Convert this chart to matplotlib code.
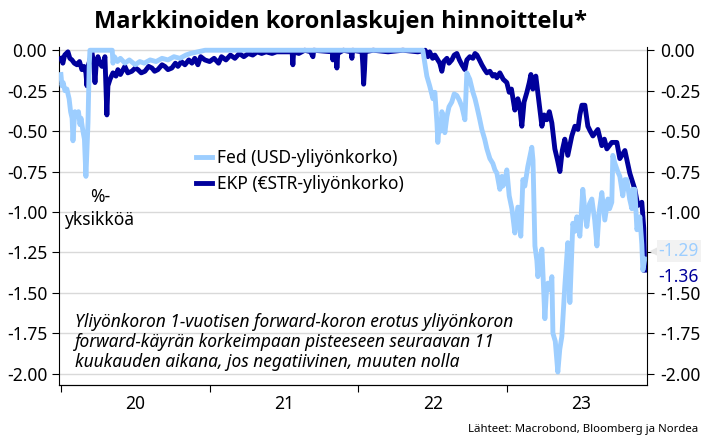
import matplotlib
matplotlib.use("Agg")
import matplotlib.pyplot as plt
import numpy as np

plt.rcParams['font.family'] = ['Noto Sans', 'DejaVu Sans']
plt.rcParams['axes.unicode_minus'] = False

# decimal years and values
fed_t = [2020.000, 2020.007, 2020.015, 2020.027, 2020.040, 2020.055, 2020.065, 2020.075,
         2020.081, 2020.088, 2020.094, 2020.108, 2020.118, 2020.128, 2020.135, 2020.148,
         2020.158, 2020.168, 2020.175, 2020.182, 2020.190, 2020.195, 2020.345, 2020.350,
         2020.360, 2020.380, 2020.400, 2020.430, 2020.460, 2020.500, 2020.530, 2020.560,
         2020.600, 2020.640, 2020.680, 2020.720, 2020.760, 2020.800, 2020.840, 2020.870,
         2020.920, 2020.970, 2022.434, 2022.461, 2022.480, 2022.502, 2022.515, 2022.529,
         2022.535, 2022.545, 2022.555, 2022.562, 2022.575, 2022.582, 2022.596, 2022.610,
         2022.629, 2022.645, 2022.663, 2022.680, 2022.697, 2022.717, 2022.730, 2022.750,
         2022.771, 2022.785, 2022.798, 2022.815, 2022.831, 2022.850, 2022.865, 2022.885,
         2022.905, 2022.919, 2022.932, 2022.952, 2022.966, 2022.972, 2022.985, 2022.999,
         2023.015, 2023.033, 2023.040, 2023.053, 2023.073, 2023.093, 2023.107, 2023.120,
         2023.140, 2023.167, 2023.175, 2023.188, 2023.201, 2023.208, 2023.220, 2023.235,
         2023.245, 2023.255, 2023.265, 2023.275, 2023.290, 2023.302, 2023.309, 2023.325,
         2023.342, 2023.355, 2023.369, 2023.389, 2023.409, 2023.423, 2023.443, 2023.456,
         2023.470, 2023.490, 2023.510, 2023.525, 2023.537, 2023.555, 2023.571, 2023.590,
         2023.605, 2023.620, 2023.638, 2023.658, 2023.679, 2023.690, 2023.705, 2023.712,
         2023.726, 2023.745, 2023.759, 2023.779, 2023.793, 2023.806, 2023.825, 2023.840,
         2023.847, 2023.860, 2023.874, 2023.894, 2023.907, 2023.914, 2023.927]
fed_v = [-0.15, -0.22, -0.20, -0.25, -0.24, -0.30, -0.38, -0.42,
         -0.56, -0.45, -0.38, -0.40, -0.38, -0.46, -0.42, -0.50,
         -0.55, -0.78, -0.62, -0.45, -0.10, 0.00, 0.00, -0.08,
         -0.04, -0.07, -0.05, -0.08, -0.06, -0.09, -0.07, -0.08,
         -0.06, -0.07, -0.05, -0.06, -0.04, -0.05, -0.03, -0.02,
         -0.01, 0.00, 0.00, -0.16, -0.22, -0.30, -0.26, -0.45,
         -0.57, -0.45, -0.50, -0.38, -0.42, -0.51, -0.41, -0.35,
         -0.32, -0.27, -0.28, -0.31, -0.35, -0.43, -0.14, -0.18,
         -0.26, -0.30, -0.35, -0.42, -0.49, -0.55, -0.61, -0.67,
         -0.70, -0.74, -0.76, -0.86, -0.78, -0.84, -0.82, -0.74,
         -0.90, -0.98, -1.03, -1.13, -0.97, -1.15, -0.80, -0.84,
         -0.72, -0.60, -0.68, -1.21, -1.30, -1.40, -1.30, -1.23,
         -1.45, -1.66, -1.50, -1.44, -1.48, -1.40, -1.75, -1.80,
         -1.99, -1.85, -1.77, -1.46, -1.19, -1.56, -1.07, -1.12,
         -1.03, -1.15, -0.86, -1.00, -1.09, -0.95, -0.92, -1.05,
         -1.21, -1.00, -0.88, -1.05, -0.92, -0.98, -0.94, -0.65,
         -0.70, -0.75, -0.78, -0.90, -0.80, -0.80, -0.92, -0.98,
         -0.86, -0.86, -1.11, -1.03, -1.20, -1.36, -1.29]

ekp_t = [2020.000, 2020.013, 2020.025, 2020.047, 2020.060, 2020.074, 2020.090, 2020.108,
         2020.125, 2020.141, 2020.155, 2020.168, 2020.175, 2020.182, 2020.195, 2020.208,
         2020.220, 2020.229, 2020.236, 2020.249, 2020.260, 2020.276, 2020.290, 2020.296,
         2020.309, 2020.316, 2020.330, 2020.350, 2020.370, 2020.383, 2020.400, 2020.430,
         2020.450, 2020.477, 2020.500, 2020.518, 2020.540, 2020.565, 2020.590, 2020.612,
         2020.630, 2020.652, 2020.680, 2020.699, 2020.720, 2020.746, 2020.770, 2020.787,
         2020.810, 2020.834, 2020.860, 2020.881, 2020.900, 2020.921, 2020.940, 2020.968,
         2021.000, 2021.030, 2021.060, 2021.080, 2021.110, 2021.140, 2021.170, 2021.200,
         2021.230, 2021.260, 2021.290, 2021.320, 2021.350, 2021.380, 2021.420, 2021.450,
         2021.480, 2021.555, 2021.560, 2021.565, 2021.600, 2021.640, 2021.680, 2021.695,
         2021.700, 2021.825, 2021.829, 2021.835, 2021.852, 2021.856, 2021.862, 2021.900,
         2021.952, 2021.957, 2021.962, 2022.025, 2022.031, 2022.036, 2022.042, 2022.047,
         2022.100, 2022.200, 2022.300, 2022.400, 2022.450, 2022.468, 2022.480, 2022.500,
         2022.515, 2022.535, 2022.548, 2022.562, 2022.575, 2022.596, 2022.610, 2022.629,
         2022.645, 2022.663, 2022.680, 2022.697, 2022.717, 2022.730, 2022.750, 2022.771,
         2022.785, 2022.798, 2022.815, 2022.831, 2022.850, 2022.865, 2022.885, 2022.905,
         2022.919, 2022.932, 2022.952, 2022.975, 2022.999, 2023.015, 2023.030, 2023.053,
         2023.073, 2023.085, 2023.100, 2023.115, 2023.134, 2023.150, 2023.161, 2023.174,
         2023.194, 2023.210, 2023.235, 2023.250, 2023.268, 2023.285, 2023.302, 2023.322,
         2023.340, 2023.356, 2023.372, 2023.389, 2023.409, 2023.436, 2023.457, 2023.477,
         2023.490, 2023.504, 2023.524, 2023.544, 2023.560, 2023.578, 2023.611, 2023.638,
         2023.655, 2023.672, 2023.705, 2023.739, 2023.759, 2023.793, 2023.826, 2023.860,
         2023.880, 2023.907, 2023.920, 2023.927]
ekp_v = [-0.05, -0.08, -0.03, -0.01, -0.05, -0.06, -0.08, -0.09,
         -0.07, -0.12, -0.10, -0.14, -0.22, -0.10, -0.06, -0.01,
         -0.08, -0.20, -0.10, -0.04, -0.08, -0.10, -0.06, -0.04,
         -0.40, -0.22, -0.18, -0.14, -0.16, -0.12, -0.15, -0.10,
         -0.14, -0.13, -0.11, -0.12, -0.14, -0.13, -0.10, -0.11,
         -0.13, -0.12, -0.09, -0.10, -0.12, -0.11, -0.08, -0.10,
         -0.07, -0.09, -0.06, -0.08, -0.05, -0.09, -0.04, -0.06,
         -0.07, -0.05, -0.08, -0.04, -0.06, -0.03, -0.05, -0.02,
         -0.04, -0.02, -0.03, -0.01, -0.02, -0.01, -0.02, -0.01,
         -0.01, -0.01, -0.09, -0.01, -0.02, 0.00, -0.01, -0.04,
         0.00, -0.01, -0.06, -0.01, -0.02, -0.11, -0.02, 0.00,
         -0.01, -0.05, 0.00, -0.01, -0.10, -0.21, -0.12, -0.01,
         0.00, -0.01, 0.00, -0.01, 0.00, -0.04, -0.01, -0.05,
         -0.03, -0.06, -0.08, -0.13, -0.07, -0.05, -0.08, -0.06,
         -0.03, -0.02, -0.06, -0.09, -0.12, -0.06, -0.04, -0.05,
         -0.02, -0.03, -0.06, -0.09, -0.12, -0.14, -0.13, -0.16,
         -0.15, -0.17, -0.14, -0.18, -0.20, -0.26, -0.24, -0.37,
         -0.30, -0.34, -0.47, -0.32, -0.26, -0.20, -0.15, -0.24,
         -0.16, -0.28, -0.47, -0.40, -0.43, -0.38, -0.45, -0.61,
         -0.68, -0.75, -0.62, -0.55, -0.65, -0.53, -0.47, -0.49,
         -0.40, -0.34, -0.34, -0.47, -0.50, -0.53, -0.49, -0.59,
         -0.55, -0.61, -0.57, -0.57, -0.67, -0.62, -0.76, -0.86,
         -0.96, -0.94, -1.10, -1.36]

fed_last = -1.29
ekp_last = -1.36
year_labels = ['20', '21', '22', '23']
yticks = [0.0, -0.25, -0.5, -0.75, -1.0, -1.25, -1.5, -1.75, -2.0]

fed_col = '#9DCEFF'
ekp_col = '#00009C'
fs = 12.5

fig = plt.figure(figsize=(7.1, 4.48), dpi=100)
ax = fig.add_axes([0.0831, 0.1406, 0.828, 0.7545])

ax.plot(ekp_t, ekp_v, color=ekp_col, lw=3.5, label='EKP (€STR-yliyönkorko)', zorder=3)
ax.plot(fed_t, fed_v, color=fed_col, lw=3.5, label='Fed (USD-yliyönkorko)', zorder=4)

ax.set_xlim(2019.987, 2023.941)
ax.set_ylim(-2.07, 0.02)
ax.set_yticks(yticks)
ax.set_yticklabels([f'{v:.2f}' for v in yticks])
ax.grid(axis='y', color='#D9D9D9', lw=1)
ax.set_axisbelow(True)

ax.set_xticks([2020, 2021, 2022, 2023])
ax.set_xticklabels([])
ax.set_xticks([2020.5, 2021.5, 2022.5, 2023.5], minor=True)
ax.set_xticklabels(year_labels, minor=True)
ax.tick_params(axis='x', which='major', length=5, direction='out')
ax.tick_params(axis='x', which='minor', length=0, pad=7, labelsize=fs)
ax.tick_params(axis='y', length=5, pad=3.5, labelsize=fs)
ax.spines['top'].set_visible(False)
ax.spines['right'].set_visible(False)

# right axis, the -1.25 label is hidden behind the end value box in the original
ax2 = ax.twinx()
ax2.set_ylim(ax.get_ylim())
ax2.set_yticks(yticks)
ax2.set_yticklabels(['' if v == -1.25 else f'{v:.2f}' for v in yticks])
ax2.tick_params(axis='y', length=5, pad=4.5, labelsize=fs)
ax2.spines['top'].set_visible(False)
ax2.spines['left'].set_visible(False)

# end value labels
fed_y = (-1.239 + 2.07) / 2.09
ekp_y = (-1.40 + 2.07) / 2.09
ax2.plot([1.012], [fed_y], marker='<', ms=6, color='#E6E6E6', transform=ax2.transAxes,
         clip_on=False, zorder=9)
ax2.text(1.02, fed_y, f'{fed_last:.2f}', transform=ax2.transAxes,
         color=fed_col, fontsize=fs, va='center', ha='left', zorder=10,
         bbox=dict(facecolor='#F2F2F2', edgecolor='none', pad=1.5))
ax2.text(1.02, ekp_y, f'{ekp_last:.2f}', transform=ax2.transAxes,
         color=ekp_col, fontsize=fs, va='center', ha='left', zorder=10,
         bbox=dict(facecolor='white', edgecolor='none', pad=0.5))

handles, labels = ax.get_legend_handles_labels()
ax.legend(handles[::-1], labels[::-1], loc='upper left', bbox_to_anchor=(0.233, 0.697),
          frameon=False, fontsize=fs, handlelength=0.9, handletextpad=0.3,
          labelspacing=0.45, borderpad=0, borderaxespad=0)

ax.text(0.0697, 0.522, '%-\nyksikköä', transform=ax.transAxes, ha='center', va='center',
        fontsize=fs, linespacing=1.35)
ax.text(0.027, 0.127,
        'Yliyönkoron 1-vuotisen forward-koron erotus yliyönkoron\n'
        'forward-käyrän korkeimpaan pisteeseen seuraavan 11\n'
        'kuukauden aikana, jos negatiivinen, muuten nolla',
        transform=ax.transAxes, ha='left', va='center', fontsize=fs,
        style='italic', linespacing=1.17)

fig.text(0.479, 0.951, 'Markkinoiden koronlaskujen hinnoittelu*', ha='center', va='center',
         fontsize=17, fontweight='bold', family=['Open Sans', 'DejaVu Sans'])
fig.text(0.983, 0.042, 'Lähteet: Macrobond, Bloomberg ja Nordea', ha='right', va='center',
         fontsize=8.2)

fig.savefig('out.png', dpi=100)
